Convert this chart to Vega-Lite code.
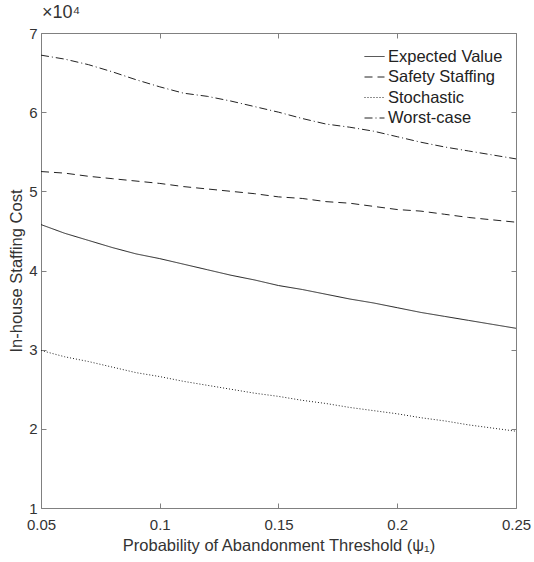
{
  "$schema": "https://vega.github.io/schema/vega-lite/v6.json",
  "width": 475,
  "height": 475,
  "autosize": {"type": "none"},
  "padding": {"left": 41, "top": 33, "right": 18, "bottom": 54},
  "background": "white",
  "config": {
    "font": "Liberation Sans",
    "view": {"stroke": "#808080", "strokeWidth": 1},
    "axis": {"grid": false, "domain": false, "tickColor": "#808080", "tickSize": -5, "labelColor": "#333333", "titleColor": "#333333", "labelFontSize": 15, "titleFontSize": 16.5, "titleFontWeight": "normal"}
  },
  "title": {"text": "×10⁴", "anchor": "start", "frame": "group", "fontSize": 18, "fontWeight": "normal", "color": "#333333", "offset": 4, "dx": 1},
  "data": {"values": [
    {"p":0.05,"s":"Expected Value","c":45800},{"p":0.06,"s":"Expected Value","c":44700},{"p":0.07,"s":"Expected Value","c":43800},{"p":0.08,"s":"Expected Value","c":42900},{"p":0.09,"s":"Expected Value","c":42100},{"p":0.10,"s":"Expected Value","c":41500},{"p":0.11,"s":"Expected Value","c":40800},{"p":0.12,"s":"Expected Value","c":40100},{"p":0.13,"s":"Expected Value","c":39400},{"p":0.14,"s":"Expected Value","c":38800},{"p":0.15,"s":"Expected Value","c":38100},{"p":0.16,"s":"Expected Value","c":37600},{"p":0.17,"s":"Expected Value","c":37000},{"p":0.18,"s":"Expected Value","c":36400},{"p":0.19,"s":"Expected Value","c":35900},{"p":0.20,"s":"Expected Value","c":35300},{"p":0.21,"s":"Expected Value","c":34700},{"p":0.22,"s":"Expected Value","c":34200},{"p":0.23,"s":"Expected Value","c":33700},{"p":0.24,"s":"Expected Value","c":33200},{"p":0.25,"s":"Expected Value","c":32700},
    {"p":0.05,"s":"Safety Staffing","c":52500},{"p":0.06,"s":"Safety Staffing","c":52300},{"p":0.07,"s":"Safety Staffing","c":51900},{"p":0.08,"s":"Safety Staffing","c":51600},{"p":0.09,"s":"Safety Staffing","c":51300},{"p":0.10,"s":"Safety Staffing","c":51000},{"p":0.11,"s":"Safety Staffing","c":50600},{"p":0.12,"s":"Safety Staffing","c":50300},{"p":0.13,"s":"Safety Staffing","c":50000},{"p":0.14,"s":"Safety Staffing","c":49700},{"p":0.15,"s":"Safety Staffing","c":49300},{"p":0.16,"s":"Safety Staffing","c":49100},{"p":0.17,"s":"Safety Staffing","c":48700},{"p":0.18,"s":"Safety Staffing","c":48500},{"p":0.19,"s":"Safety Staffing","c":48100},{"p":0.20,"s":"Safety Staffing","c":47700},{"p":0.21,"s":"Safety Staffing","c":47500},{"p":0.22,"s":"Safety Staffing","c":47100},{"p":0.23,"s":"Safety Staffing","c":46700},{"p":0.24,"s":"Safety Staffing","c":46400},{"p":0.25,"s":"Safety Staffing","c":46100},
    {"p":0.05,"s":"Stochastic","c":29900},{"p":0.06,"s":"Stochastic","c":29100},{"p":0.07,"s":"Stochastic","c":28500},{"p":0.08,"s":"Stochastic","c":27800},{"p":0.09,"s":"Stochastic","c":27100},{"p":0.10,"s":"Stochastic","c":26600},{"p":0.11,"s":"Stochastic","c":26000},{"p":0.12,"s":"Stochastic","c":25500},{"p":0.13,"s":"Stochastic","c":25000},{"p":0.14,"s":"Stochastic","c":24500},{"p":0.15,"s":"Stochastic","c":24100},{"p":0.16,"s":"Stochastic","c":23600},{"p":0.17,"s":"Stochastic","c":23200},{"p":0.18,"s":"Stochastic","c":22700},{"p":0.19,"s":"Stochastic","c":22300},{"p":0.20,"s":"Stochastic","c":21900},{"p":0.21,"s":"Stochastic","c":21400},{"p":0.22,"s":"Stochastic","c":21000},{"p":0.23,"s":"Stochastic","c":20500},{"p":0.24,"s":"Stochastic","c":20100},{"p":0.25,"s":"Stochastic","c":19700},
    {"p":0.05,"s":"Worst-case","c":67200},{"p":0.06,"s":"Worst-case","c":66700},{"p":0.07,"s":"Worst-case","c":66000},{"p":0.08,"s":"Worst-case","c":65100},{"p":0.09,"s":"Worst-case","c":64100},{"p":0.10,"s":"Worst-case","c":63200},{"p":0.11,"s":"Worst-case","c":62400},{"p":0.12,"s":"Worst-case","c":62000},{"p":0.13,"s":"Worst-case","c":61400},{"p":0.14,"s":"Worst-case","c":60700},{"p":0.15,"s":"Worst-case","c":60000},{"p":0.16,"s":"Worst-case","c":59200},{"p":0.17,"s":"Worst-case","c":58500},{"p":0.18,"s":"Worst-case","c":58100},{"p":0.19,"s":"Worst-case","c":57600},{"p":0.20,"s":"Worst-case","c":56900},{"p":0.21,"s":"Worst-case","c":56200},{"p":0.22,"s":"Worst-case","c":55600},{"p":0.23,"s":"Worst-case","c":55100},{"p":0.24,"s":"Worst-case","c":54600},{"p":0.25,"s":"Worst-case","c":54100}
  ]},
  "layer": [
    {
      "mark": {"type": "line", "strokeWidth": 1, "clip": true},
      "encoding": {
        "x": {"field": "p", "type": "quantitative", "scale": {"domain": [0.05, 0.25], "nice": false, "zero": false},
              "axis": {"values": [0.05, 0.1, 0.15, 0.2, 0.25], "format": "~g", "title": "Probability of Abandonment Threshold (ψ₁)", "labelPadding": 14, "titlePadding": 5, "labelFlush": false}},
        "y": {"field": "c", "type": "quantitative", "scale": {"domain": [10000, 70000], "nice": false, "zero": false},
              "axis": {"values": [10000, 20000, 30000, 40000, 50000, 60000, 70000], "labelExpr": "datum.value / 10000", "title": "In-house Staffing Cost", "labelPadding": 9, "titlePadding": 4, "labelFlush": false}},
        "strokeDash": {"field": "s", "type": "nominal",
          "scale": {"domain": ["Expected Value", "Safety Staffing", "Stochastic", "Worst-case"], "range": [[1, 0], [8, 5], [1, 2], [8, 3, 1, 3]]},
          "legend": {"title": null, "orient": "top-right", "offset": 13, "labelFontSize": 16.5, "labelColor": "#222222", "symbolType": "stroke", "symbolSize": 400, "symbolStrokeColor": "#222222", "symbolStrokeWidth": 1, "rowPadding": 1.5, "labelOffset": 3, "padding": 0}},
        "color": {"value": "#222222"}
      }
    },
    {
      "mark": {"type": "point", "opacity": 0},
      "encoding": {
        "x": {"field": "p", "type": "quantitative", "axis": {"orient": "top", "values": [0.05, 0.1, 0.15, 0.2, 0.25], "labels": false, "title": null}},
        "y": {"field": "c", "type": "quantitative", "axis": {"orient": "right", "values": [10000, 20000, 30000, 40000, 50000, 60000, 70000], "labels": false, "title": null}}
      }
    }
  ],
  "resolve": {"axis": {"x": "independent", "y": "independent"}}
}
